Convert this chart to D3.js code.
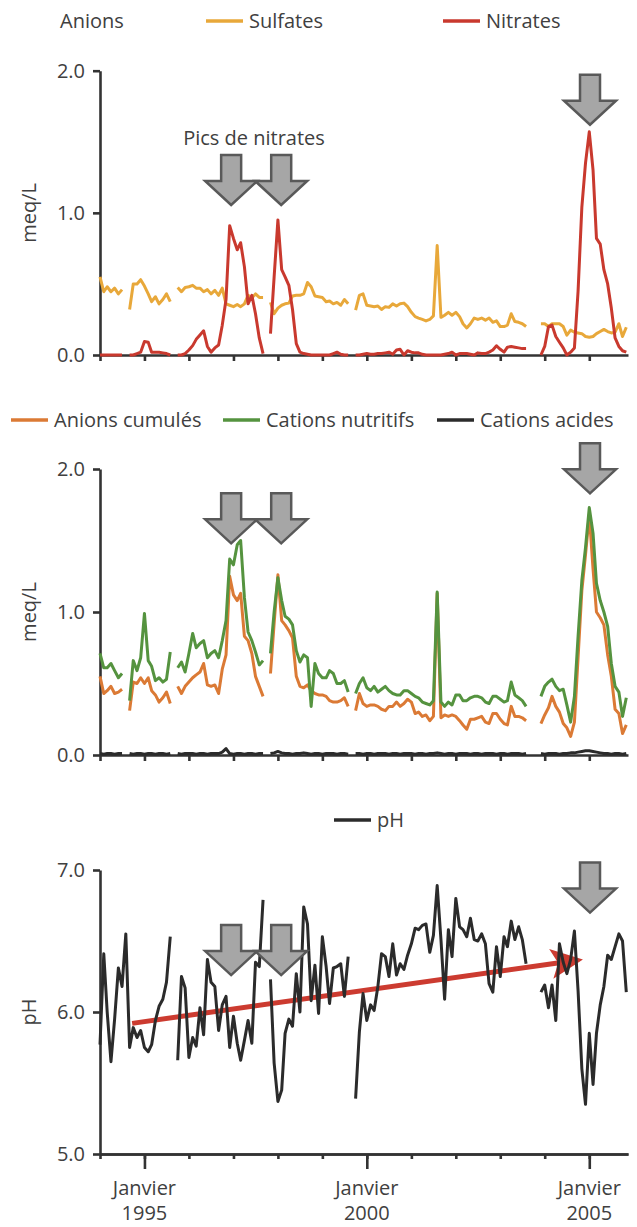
<!DOCTYPE html>
<html>
<head>
<meta charset="utf-8">
<script src="https://cdn.jsdelivr.net/npm/d3@7"></script>
<style>
  body { margin: 0; background: #fff; }
  svg text { font-family: "Open Sans", "Noto Sans", sans-serif; fill: #404040; }
</style>
</head>
<body>
<div id="chart"></div>
<script>
// monthly samples from January 1994 (index 0) to November 2005 (index 142), null = no sample
const sulfates = [
  0.55, 0.445, 0.48, 0.445, 0.47, 0.43, 0.46, null,
  0.32, 0.50, 0.50, 0.53, 0.485, 0.43, 0.375, 0.41, 0.36, 0.39, 0.43, 0.375, null,
  0.475, 0.445, 0.475, 0.48, 0.49, 0.47, 0.47, 0.445, 0.46, 0.43, 0.455, 0.42, 0.47, 0.36, 0.35, 0.34, 0.355, 0.34, 0.36, 0.42, 0.40, 0.43, 0.405, 0.405, null,
  0.37, 0.29, 0.33, 0.35, 0.36, 0.365, 0.415, 0.42, 0.42, 0.43, 0.51, 0.48, 0.415, 0.41, 0.405, 0.375, 0.38, 0.36, 0.37, 0.35, 0.39, 0.36, null,
  0.315, 0.42, 0.43, 0.35, 0.345, 0.34, 0.345, 0.32, 0.34, 0.335, 0.36, 0.345, 0.36, 0.365, 0.34, 0.30, 0.27, 0.26, 0.25, 0.24, 0.25, 0.275, 0.77, 0.265, 0.28, 0.30, 0.28, 0.30, 0.27, 0.22, 0.19, 0.22, 0.26, 0.25, 0.26, 0.245, 0.26, 0.23, 0.24, 0.20, 0.20, 0.21, 0.29, 0.235, 0.23, 0.22, 0.20,
  null, null, null,
  0.22, 0.22, 0.20, 0.22, 0.22, 0.22, 0.20, 0.14, 0.175, 0.16, 0.155, 0.15, 0.13, 0.125, 0.13, 0.15, 0.165, 0.18, 0.165, 0.155, 0.16, 0.22, 0.13, 0.195
];

const nitrates = [
  0, 0, 0, 0, 0, 0, 0, null,
  0, 0, 0.01, 0.02, 0.095, 0.09, 0.02, 0.02, 0.02, 0.015, 0.01, 0, null,
  0, 0, 0.01, 0.035, 0.066, 0.11, 0.14, 0.17, 0.06, 0.02, 0.05, 0.07, 0.21, 0.39, 0.91, 0.82, 0.74, 0.79, 0.62, 0.36, 0.42, 0.29, 0.12, 0.01, null,
  0.15, 0.55, 0.95, 0.6, 0.55, 0.49, 0.32, 0.08, 0.02, 0.01, 0.005, 0, 0, 0, 0, 0, 0, 0.01, 0.02, 0.005, 0, 0, null,
  0, 0, 0.005, 0.01, 0.005, 0.005, 0.01, 0.01, 0.015, 0.02, 0.005, 0.035, 0.04, 0, 0.03, 0.02, 0.015, 0.015, 0.005, 0, 0, 0, 0, 0, 0.005, 0.01, 0.02, 0, 0.01, 0.01, 0.01, 0.005, 0, 0.015, 0.01, 0.01, 0.02, 0.035, 0.065, 0.04, 0.02, 0.055, 0.06, 0.055, 0.05, 0.045, 0.045,
  null, null, null,
  0, 0.06, 0.2, 0.21, 0.13, 0.09, 0.05, 0, 0.02, 0.05, 0.45, 1.04, 1.35, 1.57, 1.3, 0.82, 0.78, 0.6, 0.5, 0.33, 0.12, 0.06, 0.03, 0.02
];

const anionsCumules = [
  0.55, 0.43, 0.45, 0.48, 0.43, 0.44, 0.46, null,
  0.31, 0.51, 0.50, 0.54, 0.50, 0.54, 0.45, 0.42, 0.37, 0.40, 0.44, 0.36, null,
  0.48, 0.43, 0.48, 0.51, 0.54, 0.56, 0.58, 0.64, 0.49, 0.48, 0.49, 0.43, 0.60, 0.70, 1.25, 1.12, 1.08, 1.13, 0.83, 0.80, 0.71, 0.55, 0.48, 0.41, null,
  0.57, 0.92, 1.26, 0.94, 0.91, 0.87, 0.82, 0.55, 0.48, 0.47, 0.49, 0.45, 0.43, 0.42, 0.42, 0.41, 0.38, 0.37, 0.37, 0.38, 0.40, 0.34, null,
  0.31, 0.43, 0.36, 0.34, 0.35, 0.35, 0.34, 0.32, 0.31, 0.34, 0.34, 0.37, 0.34, 0.36, 0.39, 0.37, 0.29, 0.30, 0.27, 0.28, 0.24, 0.27, 1.13, 0.26, 0.28, 0.27, 0.28, 0.27, 0.24, 0.21, 0.18, 0.25, 0.25, 0.26, 0.27, 0.23, 0.22, 0.29, 0.29, 0.25, 0.22, 0.21, 0.34, 0.27, 0.27, 0.26, 0.24,
  null, null, null,
  0.22, 0.28, 0.33, 0.41, 0.34, 0.30, 0.22, 0.19, 0.13, 0.23, 0.68, 1.15, 1.4, 1.68, 1.3, 1.0, 0.96, 0.91, 0.7, 0.55, 0.32, 0.29, 0.15, 0.21
];

const cationsNutritifs = [
  0.71, 0.61, 0.61, 0.64, 0.59, 0.54, 0.57, null,
  0.38, 0.66, 0.59, 0.68, 0.99, 0.66, 0.62, 0.52, 0.54, 0.51, 0.53, 0.72, null,
  0.61, 0.65, 0.58, 0.71, 0.85, 0.75, 0.78, 0.80, 0.68, 0.71, 0.73, 0.68, 0.80, 0.94, 1.37, 1.33, 1.47, 1.50, 1.1, 0.86, 0.80, 0.72, 0.63, 0.66, null,
  0.71, 1.0, 1.24, 1.08, 0.97, 0.95, 0.91, 0.73, 0.65, 0.70, 0.68, 0.34, 0.64, 0.57, 0.54, 0.54, 0.59, 0.57, 0.50, 0.50, 0.52, 0.44, null,
  0.43, 0.50, 0.54, 0.47, 0.45, 0.48, 0.44, 0.46, 0.48, 0.45, 0.43, 0.42, 0.42, 0.45, 0.45, 0.43, 0.41, 0.40, 0.37, 0.36, 0.35, 0.38, 1.14, 0.37, 0.34, 0.37, 0.35, 0.42, 0.42, 0.38, 0.38, 0.40, 0.41, 0.41, 0.40, 0.37, 0.36, 0.41, 0.41, 0.39, 0.37, 0.38, 0.51, 0.42, 0.40, 0.38, 0.34,
  null, null, null,
  0.41, 0.48, 0.51, 0.53, 0.48, 0.45, 0.46, 0.35, 0.23, 0.41, 0.83, 1.22, 1.45, 1.73, 1.55, 1.2, 1.08, 1.0, 0.9, 0.64, 0.48, 0.44, 0.27, 0.40
];

const cationsAcides = [
  0.01, 0.005, 0.01, 0.01, 0.005, 0.01, 0.01, null,
  0.01, 0.005, 0.01, 0.01, 0.005, 0.01, 0.01, 0.005, 0.01, 0.01, 0.005, 0.01, null,
  0.01, 0.005, 0.01, 0.01, 0.01, 0.005, 0.01, 0.01, 0.005, 0.01, 0.01, 0.01, 0.02, 0.045, 0.01, 0.005, 0.01, 0.01, 0.005, 0.01, 0.01, 0.005, 0.01, 0.01, null,
  0.01, 0.015, 0.025, 0.015, 0.01, 0.01, 0.005, 0.01, 0.01, 0.015, 0.01, 0.005, 0.01, 0.01, 0.005, 0.01, 0.01, 0.01, 0.005, 0.01, 0.01, 0.005, null,
  0.01, 0.01, 0.005, 0.01, 0.01, 0.005, 0.01, 0.01, 0.01, 0.005, 0.01, 0.01, 0.005, 0.01, 0.01, 0.01, 0.005, 0.01, 0.01, 0.005, 0.01, 0.01, 0.015, 0.01, 0.005, 0.01, 0.01, 0.005, 0.01, 0.01, 0.01, 0.005, 0.01, 0.01, 0.005, 0.01, 0.01, 0.01, 0.005, 0.01, 0.01, 0.005, 0.01, 0.01, 0.01, 0.005, 0.01,
  null, null, null,
  0.01, 0.005, 0.01, 0.01, 0.01, 0.005, 0.01, 0.01, 0.015, 0.015, 0.02, 0.025, 0.03, 0.03, 0.025, 0.02, 0.015, 0.01, 0.01, 0.005, 0.01, 0.01, 0.005, 0.01
];

const pH = [
  5.77, 6.41, 6.0, 5.65, 5.95, 6.31, 6.18, 6.55, 5.75, 5.89, 5.82, 5.87, 5.75, 5.72, 5.77, 5.94, 6.04, 6.09, 6.21, 6.53, null,
  5.66, 6.25, 6.17, 5.68, 5.82, 5.76, 6.03, 5.84, 6.37, 6.21, 6.18, 5.87, 6.05, 6.11, 5.75, 5.97, 5.78, 5.66, 5.8, 5.94, 5.78, 6.35, 6.32, 6.79, null,
  6.23, 5.64, 5.37, 5.45, 5.85, 5.95, 5.9, 6.27, 6.0, 6.74, 6.62, 6.08, 6.33, 5.99, 6.53, 6.32, 6.06, 6.31, 6.32, 6.34, 6.11, 6.39, null,
  5.39, 5.86, 6.13, 5.94, 6.05, 6.01, 6.18, 6.41, 6.39, 6.25, 6.48, 6.26, 6.34, 6.3, 6.4, 6.48, 6.59, 6.58, 6.61, 6.62, 6.42, 6.54, 6.89, 6.51, 6.09, 6.58, 6.39, 6.8, 6.6, 6.58, 6.53, 6.66, 6.51, 6.5, 6.55, 6.48, 6.2, 6.14, 6.46, 6.25, 6.53, 6.46, 6.64, 6.51, 6.6, 6.51, 6.34,
  null, null, null,
  6.14, 6.19, 6.03, 6.19, 5.94, 6.48, 6.35, 6.27, 6.37, 6.57, 6.15, 5.6, 5.35, 5.85, 5.49, 5.85, 6.05, 6.18, 6.4, 6.37, 6.46, 6.55, 6.5, 6.14
];

// pH trend (month index, pH) from start to arrow tip
const trendMonths = [8.7, 130.3];
const trendValues = [5.92, 6.37];

// grey block arrows: month index and value of the tip, per panel
const arrowMonths = [35.4, 48.9, 132.2];
const arrowTips1 = [1.055, 1.055, 1.62];
const arrowTips2 = [1.48, 1.48, 1.83];
const arrowTips3 = [6.26, 6.26, 6.70];

const majorYears = [1995, 2000, 2005];

const W = 637, H = 1227;
const monthDate = m => new Date(1994, Math.floor(m), 1 + Math.round((m % 1) * 30));
const dates = sulfates.map((_, i) => new Date(1994, i, 1));

const svg = d3.select('#chart').append('svg')
  .attr('width', W)
  .attr('height', H);

const x = d3.scaleTime()
  .domain([new Date(1994, 0, 1), new Date(2005, 10, 15)])
  .range([100, 628]);

const panels = [
  {
    y: d3.scaleLinear().domain([0, 2]).range([355, 70.7]),
    ticks: [0, 1, 2], label: 'meq/L',
    series: [[sulfates, '#e8a83a'], [nitrates, '#c9392e']],
    tips: arrowTips1
  },
  {
    y: d3.scaleLinear().domain([0, 2]).range([755, 469]),
    ticks: [0, 1, 2], label: 'meq/L',
    series: [[anionsCumules, '#db7a35'], [cationsNutritifs, '#55933f'], [cationsAcides, '#2b2b2b']],
    tips: arrowTips2
  },
  {
    y: d3.scaleLinear().domain([5, 7]).range([1154, 870]),
    ticks: [5, 6, 7], label: 'pH',
    series: [[pH, '#2b2b2b']],
    tips: arrowTips3
  }
];

const axisColor = '#333';

function styleAxis(g) {
  g.select('.domain').attr('stroke', axisColor).attr('stroke-width', 2.6);
  g.selectAll('.tick line').attr('stroke', axisColor).attr('stroke-width', 2.6);
  g.selectAll('.tick text')
    .attr('fill', '#404040')
    .style('font-size', '20px')
    .style('font-family', '"Open Sans", sans-serif');
}

panels.forEach((p, pi) => {
  const [y0, y1] = p.y.range();

  // y axis
  svg.append('g')
    .attr('transform', 'translate(100,0)')
    .call(d3.axisLeft(p.y).tickValues(p.ticks).tickFormat(d3.format('.1f'))
      .tickSize(7).tickSizeOuter(0).tickPadding(8))
    .call(styleAxis);

  // x axis, minor ticks every January
  svg.append('g')
    .attr('transform', `translate(0,${y0})`)
    .call(d3.axisBottom(x).ticks(d3.timeYear.every(1)).tickFormat('')
      .tickSize(pi === 2 ? 5 : 6).tickSizeOuter(0))
    .call(styleAxis);

  if (pi === 2) {
    svg.append('g')
      .attr('transform', `translate(0,${y0})`)
      .call(d3.axisBottom(x).tickValues(majorYears.map(yr => new Date(yr, 0, 1)))
        .tickFormat('').tickSize(15).tickSizeOuter(0))
      .call(styleAxis);

    const lab = svg.append('g').selectAll('text')
      .data(majorYears)
      .join('text')
      .attr('text-anchor', 'middle')
      .style('font-size', '20px')
      .attr('x', d => x(new Date(d, 0, 1)));
    lab.append('tspan').attr('y', 1195).attr('x', d => x(new Date(d, 0, 1))).text('Janvier');
    lab.append('tspan').attr('y', 1220).attr('x', d => x(new Date(d, 0, 1))).text(d => d);
  }

  // y label
  svg.append('text')
    .attr('transform', `translate(36,${pi === 2 ? 1012 : (y0 + y1) / 2}) rotate(-90)`)
    .attr('text-anchor', 'middle')
    .style('font-size', '20px')
    .text(p.label);

  // pH trend arrow under the pH line
  if (pi === 2) {
    const tx0 = x(monthDate(trendMonths[0])), ty0 = p.y(trendValues[0]);
    const tx1 = x(monthDate(trendMonths[1])), ty1 = p.y(trendValues[1]);
    const ang = Math.atan2(ty1 - ty0, tx1 - tx0);
    const len = Math.hypot(tx1 - tx0, ty1 - ty0);
    const tg = svg.append('g')
      .attr('transform', `translate(${tx0},${ty0}) rotate(${ang * 180 / Math.PI})`);
    tg.append('line')
      .attr('x1', 0).attr('y1', 0)
      .attr('x2', len - 22).attr('y2', 0)
      .attr('stroke', '#cc3b30')
      .attr('stroke-width', 5);
    tg.append('path')
      .attr('d', `M${len},0 L${len - 32},-15 L${len - 25},0 L${len - 32},15 Z`)
      .attr('fill', '#cc3b30');
  }

  // data lines
  p.series.forEach(([values, color]) => {
    const line = d3.line()
      .defined(d => d[1] != null)
      .x(d => x(d[0]))
      .y(d => p.y(d[1]));
    svg.append('path')
      .datum(values.map((v, i) => [dates[i], v]))
      .attr('fill', 'none')
      .attr('stroke', color)
      .attr('stroke-width', 3)
      .attr('stroke-linejoin', 'round')
      .attr('d', line);
  });

  // grey block arrows
  svg.append('g').selectAll('path')
    .data(arrowMonths.map((m, i) => [x(monthDate(m)), p.y(p.tips[i])]))
    .join('path')
    .attr('d', ([cx, ty]) => {
      const top = ty - 50;
      return `M${cx - 10},${top} L${cx + 10},${top} L${cx + 10},${top + 26} L${cx + 26},${top + 26}` +
        ` L${cx},${ty} L${cx - 26},${top + 26} L${cx - 10},${top + 26} Z`;
    })
    .attr('fill', '#a6a6a6')
    .attr('stroke', '#595959')
    .attr('stroke-width', 2.5)
    .attr('stroke-linejoin', 'miter');
});

// legends and titles
const legendItems = [
  { x: 206, y: 21, color: '#e8a83a', text: 'Sulfates' },
  { x: 443, y: 21, color: '#c9392e', text: 'Nitrates' },
  { x: 11, y: 420, color: '#db7a35', text: 'Anions cumulés' },
  { x: 223, y: 420, color: '#55933f', text: 'Cations nutritifs' },
  { x: 437, y: 420, color: '#2b2b2b', text: 'Cations acides' },
  { x: 334, y: 820, color: '#2b2b2b', text: 'pH' }
];

const lg = svg.append('g').selectAll('g')
  .data(legendItems)
  .join('g')
  .attr('transform', d => `translate(${d.x},${d.y})`);
lg.append('line')
  .attr('x1', 0).attr('x2', 37)
  .attr('stroke', d => d.color)
  .attr('stroke-width', 3.5);
lg.append('text')
  .attr('x', 43).attr('y', 7)
  .style('font-size', '20px')
  .text(d => d.text);

svg.append('text')
  .attr('x', 60).attr('y', 28)
  .style('font-size', '20px')
  .text('Anions');

svg.append('text')
  .attr('x', 254).attr('y', 145)
  .attr('text-anchor', 'middle')
  .style('font-size', '20px')
  .text('Pics de nitrates');
</script>
</body>
</html>
